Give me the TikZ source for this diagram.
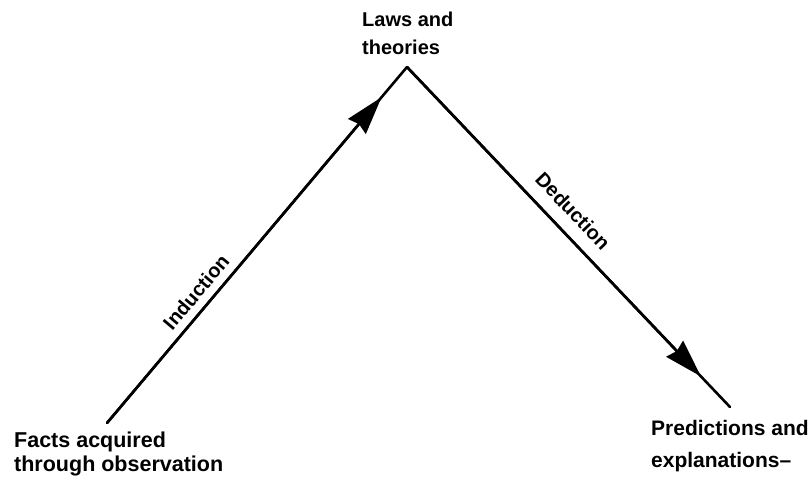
\documentclass[tikz,border=0pt]{standalone}
\usepackage{fontspec}
\setmainfont{Liberation Sans}
\usetikzlibrary{arrows.meta,calc}
\begin{document}
\begin{tikzpicture}[x=1pt,y=-1pt,
  conn/.style={line width=2.6pt,line cap=round},
  head/.style={line width=2.6pt,-{Stealth[length=38pt,width=23pt,inset=3pt]}},
  lbl/.style={inner sep=0pt,anchor=north west,align=left},
  edgelbl/.style={inner sep=0pt,font=\fontsize{20}{24}\selectfont\bfseries}]
\useasboundingbox (0,0) rectangle (812,483);
\coordinate (facts) at (107,423);
\coordinate (laws) at (407,67);
\coordinate (pred) at (730,407);
\node[lbl,font=\fontsize{20}{28}\selectfont\bfseries] (lawsT) at (362,12) {Laws and\\theories};
\node[lbl,font=\fontsize{21.5}{24}\selectfont\bfseries] (factsT) at (14,432) {Facts acquired\\through observation};
\node[lbl,font=\fontsize{21}{32}\selectfont\bfseries] (predT) at (651,420) {Predictions and\\explanations\char"2013};
\draw[conn] (facts) -- (laws);
\draw[head] (facts) -- ($(facts)!0.915!(laws)$);
\draw[conn] (laws) -- (pred);
\draw[head] (laws) -- ($(laws)!0.91!(pred)$);
\node[edgelbl,rotate=49.9] (ind) at (196,292) {Induction};
\node[edgelbl,rotate=-46.5] (ded) at (573,211) {Deduction};
\end{tikzpicture}
\end{document}
